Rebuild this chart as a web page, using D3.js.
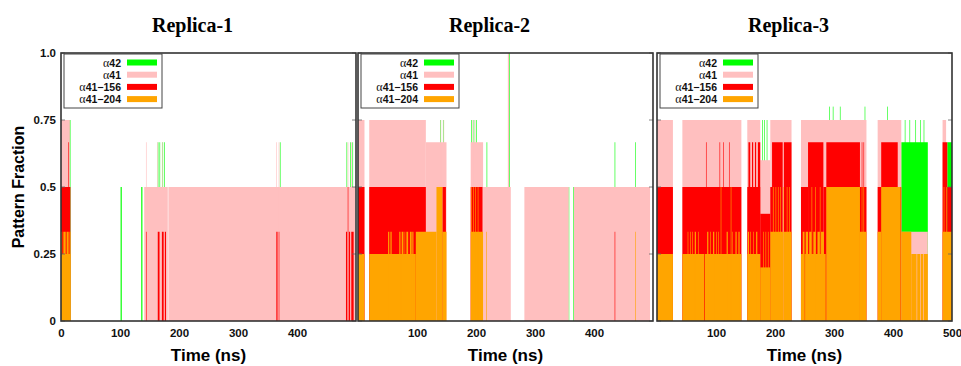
<!DOCTYPE html>
<html>
<head>
<meta charset="utf-8">
<script src="https://cdn.jsdelivr.net/npm/d3@7"></script>
<style>
  body { margin: 0; background: #fff; }
  svg { display: block; }
</style>
</head>
<body>
<div id="chart"></div>
<script>
// panels and series
const replicas = ["Replica-1", "Replica-2", "Replica-3"];
const seriesNames = ["α42", "α41", "α41−156", "α41−204"];
const seriesColors = ["#00ff00", "#ffbfbf", "#ff0000", "#ffa500"];

// runs of [start ns, end ns, fraction]
const r1_a42 = [[14,16,0.75],[101,103,0.5],[136,138,0.5],[164,165,0.667],[167,168,0.667],[172,173,0.667],[175,176,0.667],[371,372,0.667],[484,485,0.667],[490,491,0.667],[494,495,0.667]];
const r1_a41 = [[0,15,0.75],[141,181,0.5],[182,499,0.5],[144,145,0.667],[163,164,0.667],[171,172,0.667],[365,366,0.667],[369,370,0.667],[486,487,0.667],[492,493,0.667]];
const r1_a41_156 = [[0,16,0.5],[12,13,0.667],[144,145,0.333],[164,167,0.333],[171,174,0.333],[176,178,0.333],[365,367,0.333],[369,370,0.333],[483,485,0.333],[486,487,0.5],[488,490,0.333],[492,496,0.333]];
const r1_a41_204 = [[0,16,0.25],[0,2,0.333],[4,8,0.333],[9.5,13,0.333],[14.5,16,0.333]];

const r2_a42 = [[139,140,0.75],[144,145,0.75],[192,193,0.75],[196,197,0.75],[200,201,0.75],[218,219,0.667],[255,257,1.0],[357,358,0.5],[365,366,0.5],[435,436,0.667],[470,471,0.667],[491,492,0.5]];
const r2_a41 = [[0,11,0.75],[19,115,0.75],[115,150,0.667],[140,141,0.75],[145,146,0.75],[191,212,0.667],[194,195,0.75],[198,199,0.75],[212,259,0.5],[254,256,1.0],[282,357,0.5],[366,495,0.5]];
const r2_a41_156 = [[0,11,0.5],[19,115,0.5],[143,149,0.5],[191,211,0.5],[435,436,0.333]];
const r2_a41_204 = [[0,11,0.25],[19,98,0.25],[51,53,0.333],[55,57,0.333],[70,72,0.333],[74,77,0.333],[79,80,0.333],[82,85,0.333],[88,91,0.333],[92,94,0.333],[98,133,0.333],[133,143,0.5],[143,150,0.333],[191,212,0.333],[192,193,0.5],[195,196,0.5],[199,200,0.5],[203,204,0.5],[217,218,0.333],[470,471,0.333]];

const r3_a42 = [[80,81,0.75],[178,179,0.75],[182,183,0.75],[186,187,0.75],[214,215,0.75],[287,296,0.75],[292,293,0.8],[298,299,0.8],[310,311,0.8],[344,345,0.667],[352,353,0.8],[380,381,0.75],[390,391,0.8],[398,399,0.75],[412,413,0.75],[414,459,0.667],[420,421,0.75],[428,429,0.75],[438,439,0.75],[446,447,0.75],[452,453,0.75],[492,500,0.667]];
const r3_a41 = [[0,27,0.75],[43,143,0.75],[153,175,0.75],[175,192,0.6],[192,228,0.75],[244,355,0.75],[374,414,0.75],[414,459,0.333],[484,490,0.75]];
const r3_a41_156 = [[0,27,0.5],[43,143,0.5],[83,84,0.667],[106,107,0.667],[112,113,0.667],[122,123,0.667],
  [153,175,0.5],[155,158,0.667],[161,163,0.667],[166,168,0.667],[171,175,0.667],[175,192,0.4],[192,195,0.5],[195,213,0.667],[215,228,0.667],
  [244,256,0.5],[256,282,0.667],[282,287,0.5],[287,344,0.667],[344,355,0.5],[347,348,0.667],[350,351,0.667],
  [374,380,0.5],[380,408,0.667],[408,414,0.5],[484,492,0.667],[492,500,0.5]];
const r3_a41_204 = [[0,27,0.25],[43,80,0.25],[81,143,0.25],[52,53,0.333],[56,57,0.333],[60,61,0.333],[64,66,0.333],[70,71,0.333],[85,87,0.333],[90,91,0.333],[95,97,0.333],[100,101,0.333],[104,105,0.333],[108,109,0.5],[118,120,0.333],[125,126,0.5],[127,128,0.333],[133,135,0.333],[138,140,0.333],
  [153,175,0.25],[154,156,0.333],[158,159,0.333],[163,164,0.333],[168,170,0.333],[175,192,0.2],[180,181,0.333],[184,185,0.333],[188,189,0.333],
  [192,214,0.333],[214,215,0.5],[215,228,0.333],[197,198,0.5],[201,202,0.5],[205,206,0.5],[209,210,0.5],[220,221,0.5],[224,225,0.5],
  [244,250,0.25],[251,286,0.25],[247,250,0.333],[252,256,0.333],[258,262,0.333],[265,269,0.333],[272,276,0.333],[278,283,0.333],[262,263,0.5],[268,269,0.5],[276,277,0.5],
  [287,344,0.5],[344,355,0.333],[347,348,0.5],[350,351,0.5],
  [374,380,0.333],[380,413,0.5],
  [414,431,0.333],[431,440,0.25],[441,446,0.25],[447,451,0.25],[452,459,0.25],
  [484,500,0.333],[486,487,0.5],[490,491,0.5]];

const runs = [
  [r1_a42, r1_a41, r1_a41_156, r1_a41_204],
  [r2_a42, r2_a41, r2_a41_156, r2_a41_204],
  [r3_a42, r3_a41, r3_a41_156, r3_a41_204]
];

const xTicks = [[0, 100, 200, 300, 400], [100, 200, 300, 400], [100, 200, 300, 400, 500]];
const yTicks = [0, 0.25, 0.5, 0.75, 1.0];
const yTickLabels = ["0", "0.25", "0.5", "0.75", "1.0"];

const width = 961, height = 366;
const panelLeft = [61, 358, 657];
const panelW = 295;
const plotTop = 53, plotBottom = 321;
const sans = "'Liberation Sans', Arial, Helvetica, sans-serif";
const serif = "'Liberation Serif', 'Times New Roman', serif";

const svg = d3.select("#chart").append("svg")
  .attr("width", width)
  .attr("height", height);

const y = d3.scaleLinear().domain([0, 1]).range([plotBottom, plotTop]);

replicas.forEach((name, p) => {
  const left = panelLeft[p];
  const x = d3.scaleLinear().domain([0, 500]).range([left, left + panelW]);
  const g = svg.append("g");

  g.append("clipPath").attr("id", "clip" + p)
    .append("rect").attr("x", left).attr("y", plotTop).attr("width", panelW).attr("height", plotBottom - plotTop);

  const plot = g.append("g").attr("clip-path", `url(#clip${p})`);

  // back to front: α42, α41, α41-156, α41-204
  runs[p].forEach((series, s) => {
    plot.append("g")
      .selectAll("rect")
      .data(series)
      .enter().append("rect")
      .attr("x", d => x(d[0]))
      .attr("width", d => Math.max(x(d[1]) - x(d[0]), 0.6))
      .attr("y", d => y(d[2]))
      .attr("height", d => y(0) - y(d[2]))
      .attr("fill", seriesColors[s]);
  });

  // inward ticks on both sides
  yTicks.forEach(v => {
    g.append("line").attr("x1", left).attr("x2", left + 4).attr("y1", y(v)).attr("y2", y(v))
      .attr("stroke", "#666").attr("stroke-width", 0.8);
    g.append("line").attr("x1", left + panelW - 4).attr("x2", left + panelW).attr("y1", y(v)).attr("y2", y(v))
      .attr("stroke", "#666").attr("stroke-width", 0.8);
  });

  g.append("rect")
    .attr("x", left).attr("y", plotTop)
    .attr("width", panelW).attr("height", plotBottom - plotTop)
    .attr("fill", "none").attr("stroke", "#333").attr("stroke-width", 1.6);

  // x axis labels
  const xAxis = d3.axisBottom(x).tickValues(xTicks[p]).tickSize(0).tickPadding(8);
  const ax = g.append("g").attr("transform", `translate(0,${plotBottom})`).call(xAxis);
  ax.select(".domain").remove();
  ax.selectAll("text")
    .attr("font-family", sans).attr("font-size", 11.5).attr("font-weight", "bold").attr("fill", "#111");

  g.append("text")
    .attr("x", left + panelW / 2).attr("y", 361)
    .attr("text-anchor", "middle")
    .attr("font-family", sans).attr("font-size", 17).attr("font-weight", "bold")
    .text("Time (ns)");

  g.append("text")
    .attr("x", left + panelW / 2 - 16).attr("y", 32)
    .attr("text-anchor", "middle")
    .attr("font-family", serif).attr("font-size", 20).attr("font-weight", "bold")
    .text(name);

  // legend box
  const lx = left + 3, ly = plotTop + 1;
  const leg = g.append("g");
  leg.append("rect")
    .attr("x", lx).attr("y", ly).attr("width", 98).attr("height", 54)
    .attr("fill", "#fff").attr("stroke", "#444").attr("stroke-width", 1);
  seriesNames.forEach((n, i) => {
    const cy = ly + 8.5 + i * 12.2;
    const t = leg.append("text")
      .attr("x", lx + 57).attr("y", cy + 4)
      .attr("text-anchor", "end")
      .attr("font-family", sans).attr("font-size", 10.5).attr("font-weight", "bold").attr("fill", "#111");
    t.append("tspan").attr("font-family", serif).attr("font-weight", "normal").attr("font-size", 12).text(n.slice(0, 1));
    t.append("tspan").text(n.slice(1));
    leg.append("rect")
      .attr("x", lx + 63).attr("y", cy - 3).attr("width", 30).attr("height", 6)
      .attr("fill", seriesColors[i]);
  });
});

// y axis on the first panel
const yAxis = d3.axisLeft(y).tickValues(yTicks).tickFormat((d, i) => yTickLabels[i]).tickSize(0).tickPadding(5);
const ay = svg.append("g").attr("transform", `translate(${panelLeft[0]},0)`).call(yAxis);
ay.select(".domain").remove();
ay.selectAll("text")
  .attr("font-family", sans).attr("font-size", 11.5).attr("font-weight", "bold").attr("fill", "#111");

svg.append("text")
  .attr("transform", `translate(24,${(plotTop + plotBottom) / 2}) rotate(-90)`)
  .attr("text-anchor", "middle")
  .attr("font-family", sans).attr("font-size", 16).attr("font-weight", "bold")
  .text("Pattern Fraction");
</script>
</body>
</html>
